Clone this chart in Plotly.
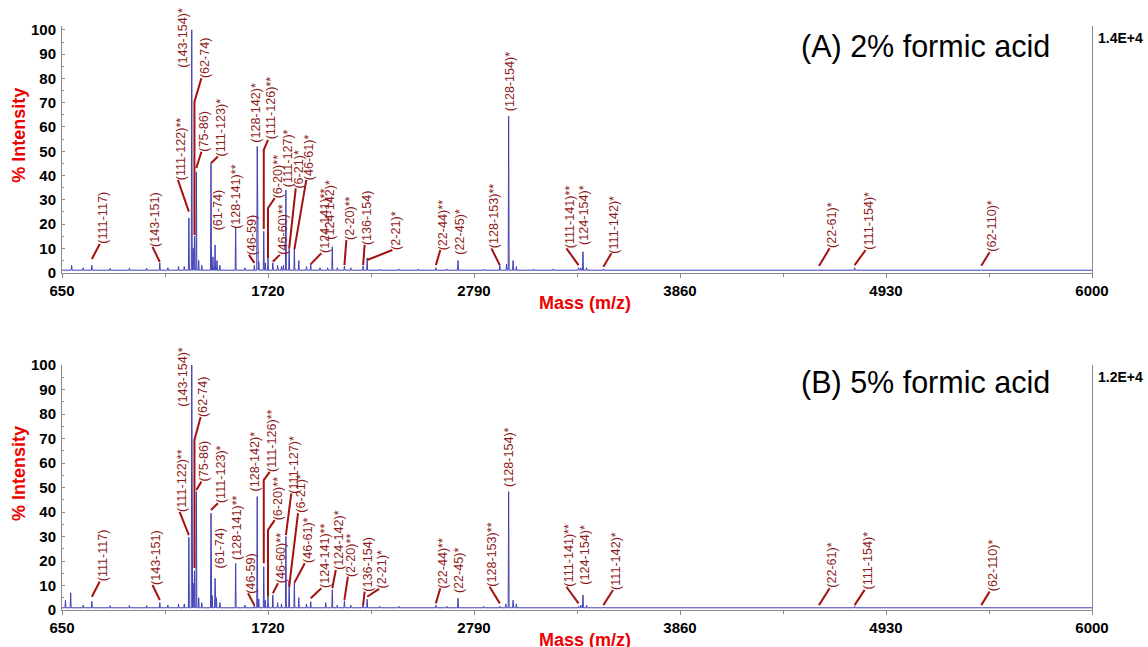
import plotly.graph_objects as go

# ---------------- data ----------------
MZ_MIN, MZ_MAX = 650, 6000
x_ticks = [650, 1720, 2790, 3860, 4930, 6000]
y_ticks = list(range(0, 101, 10))
panel_titles = ["(A) 2% formic acid", "(B) 5% formic acid"]
panel_scale = ["1.4E+4", "1.2E+4"]

labels = ["(111-117)", "(143-151)", "(111-122)**", "(143-154)*", "(62-74)", "(75-86)",
          "(111-123)*", "(61-74)", "(128-141)**", "(46-59)", "(128-142)*", "(111-126)**",
          "(6-20)**", "(46-60)**", "(111-127)*", "(6-21)*", "(46-61)*", "(124-141)**",
          "(124-142)*", "(2-20)**", "(136-154)", "(2-21)*", "(22-44)**", "(22-45)*",
          "(128-153)**", "(128-154)*", "(111-141)**", "(124-154)*", "(111-142)*",
          "(22-61)*", "(111-154)*", "(62-110)*"]
label_mz = [805, 1158, 1309, 1324, 1338, 1348, 1424, 1445, 1552, 1649, 1664, 1698,
            1720, 1745, 1813, 1830, 1857, 1942, 2054, 2117, 2214, 2235, 2592, 2707,
            2924, 2970, 3333, 3356, 3462, 4582, 4767, 5425]
int_a = [3, 4, 22.5, 100, 15, 41.5, 45, 11.4, 18.3, 3, 52, 17, 6, 4, 34, 10, 9.6, 3.5,
         10.7, 2.7, 2.7, 6, 2, 5, 3, 64.5, 2, 8.6, 1.5, 1, 2, 1.2]
int_b = [3.5, 3, 29.7, 100, 16, 48.3, 39.5, 12.9, 19, 2.5, 46.3, 17.7, 5.4, 6.1, 30, 12,
         11, 3.4, 8.2, 3.8, 2.8, 4.4, 2, 4.8, 1.5, 48.3, 1.5, 6.1, 1.2, 1, 1.5, 1]

minor_mz_a = [700, 760, 900, 1000, 1090, 1200, 1255, 1285, 1331, 1360, 1376, 1434, 1455,
              1470, 1600, 1672, 1706, 1770, 1790, 1800, 1880, 1920, 1990, 2030, 2080,
              2150, 2300, 2400, 2500, 2650, 2840, 2959, 2993, 3010, 3100, 3200, 3345, 3375]
minor_h_a = [3, 2, 1.8, 1.8, 1.8, 2, 2.5, 2.5, 10, 5, 3, 6.5, 5, 3, 2, 4.5, 4, 3, 2.5, 3,
             5, 2.5, 2, 2, 2, 2, 1.5, 1.5, 1.5, 1.5, 1.5, 3.5, 5, 2.5, 1.5, 1.5, 2, 2]
minor_mz_b = [668, 695, 760, 900, 1000, 1090, 1200, 1255, 1285, 1331, 1360, 1376, 1430,
              1452, 1470, 1600, 1672, 1706, 1770, 1790, 1880, 1920, 2020, 2080, 2150,
              2300, 2400, 2650, 2840, 2955, 2993, 3010, 3345, 3375]
minor_h_b = [4, 7, 2, 1.8, 1.8, 1.8, 2, 2.5, 2.5, 11, 5, 3, 6, 5, 3, 2, 4.5, 4, 3, 2.5, 5,
             2.5, 3, 2, 2, 1.5, 1.5, 1.5, 1.5, 2.5, 4, 2.5, 2, 2]
base_a, base_b = 1.0, 0.9

# ---------------- label layout (leader end / text base, elbow, leader start) ----------------
layout_a = [(846, 11.8, None, 5.6), (1120, 10.6, None, 4.4), (1252, 38.2, None, 25.1),
            (1277, 84.3, None, None), (1374, 80.1, 70.4, 15.5), (1374, 49.8, None, 43.1),
            (1460, 47.8, None, 45.1), (1460, 17.6, None, None), (1556, 18, None, None),
            (1621, 7.3, None, 4), (1656, 53.4, None, None), (1720, 54.7, 50.5, 18),
            (1755, 30.7, 26.6, 6), (1781, 7.3, None, 4.5), (1821, 35.4, None, None),
            (1864, 34.7, None, 10), (1919, 38.2, None, 9.6), (1997, 8, None, 3.5),
            (2040, 13.4, None, None), (2127, 13.4, None, 3.1), (2222, 11.4, None, 3.1),
            (2366, 9.3, None, 5.2), (2615, 9.3, None, 3.1), (2716, 7.3, None, None),
            (2880, 10, None, 3.1), (2975, 66.3, None, None), (3270, 10, None, 3.1),
            (3361, 11.4, None, None), (3504, 8, None, 2.4), (4637, 10, None, 2.7),
            (4824, 9.3, None, 3.1), (5468, 8.4, None, 2.8)]
layout_b = [(846, 11.6, None, 5.4), (1120, 10.2, None, 4.1), (1261, 40.1, None, 30.6),
            (1279, 83, None, None), (1370, 78.8, 69.4, 17.1), (1374, 52.4, None, 49),
            (1460, 43.6, None, 40.8), (1469, 17, None, None), (1556, 20.4, None, None),
            (1616, 6.8, None, 2), (1651, 48.3, None, None), (1729, 56.4, 53, 19.1),
            (1755, 36.7, 32.7, 5.4), (1772, 10.9, None, 6.8), (1841, 47.6, None, 30.6),
            (1876, 39.5, None, 9.5), (1911, 19.1, None, 11.1), (1997, 8.9, None, 4.8),
            (2072, 16.3, None, 8.9), (2135, 13.6, None, 4.1), (2222, 7.5, None, 2),
            (2297, 8.6, None, 5.4), (2615, 8.9, None, 2.7), (2716, 6.8, None, None),
            (2871, 9.5, None, 2.7), (2973, 50.3, None, None), (3270, 9.5, None, 2.7),
            (3365, 10.2, None, None), (3512, 8.2, None, 2), (4637, 8.9, None, 2),
            (4819, 8.2, None, 2), (5468, 7.5, None, 2)]
title_mz = 5136

# ---------------- styles ----------------
FONT = "Liberation Sans, Arial, sans-serif"
SPEC_COLOR = "rgb(64,64,180)"
TEXT_RED = "#8e1b1b"
LEAD_RED = "#a31111"
AXIS_GRAY = "#8a8a8a"


def spectrum(mz, h, base):
    pts = sorted(zip(mz, h))
    xs, ys = [MZ_MIN], [base]
    for m, v in pts:
        xs += [m - 2.5, m, m + 2.5]
        ys += [base, v, base]
    xs.append(MZ_MAX)
    ys.append(base)
    return xs, ys


fig = go.Figure()
annotations = []

panels = [
    (label_mz, int_a, minor_mz_a, minor_h_a, base_a, layout_a, "x", "y"),
    (label_mz, int_b, minor_mz_b, minor_h_b, base_b, layout_b, "x2", "y2"),
]

for pi, (lmz, lint, mmz, mh, base, lay, xa, ya) in enumerate(panels):
    xs, ys = spectrum(list(lmz) + list(mmz), list(lint) + list(mh), base)
    fig.add_trace(go.Scatter(x=xs, y=ys, mode="lines", xaxis=xa, yaxis=ya,
                             line=dict(color=SPEC_COLOR, width=1), hoverinfo="skip",
                             showlegend=False, cliponaxis=False))
    lx, ly = [], []
    for i, (ex, ey, elbow, tip) in enumerate(lay):
        has_lead = tip is not None
        if has_lead:
            lx += [lmz[i]]
            ly += [tip]
            if elbow is not None:
                lx += [lmz[i]]
                ly += [elbow]
            lx += [ex, None]
            ly += [ey, None]
        annotations.append(dict(
            x=ex, y=ey, xref=xa, yref=ya, text=labels[i], showarrow=False,
            textangle=-90, xanchor="center", yanchor="bottom",
            xshift=3 if has_lead else 0, borderpad=0, borderwidth=0,
            font=dict(family=FONT, size=12.6, color=TEXT_RED)))
    fig.add_trace(go.Scatter(x=lx, y=ly, mode="lines", xaxis=xa, yaxis=ya,
                             line=dict(color=LEAD_RED, width=2), hoverinfo="skip",
                             showlegend=False, cliponaxis=False))

    ydom = "y domain" if ya == "y" else "y2 domain"
    # panel title
    annotations.append(dict(x=title_mz, xref=xa, y=1, yref=ydom, text=panel_titles[pi],
                            showarrow=False, xanchor="center", yanchor="middle",
                            yshift=-20 if pi == 0 else -17,
                            font=dict(family=FONT, size=30.5, color="black")))
    # scale label
    annotations.append(dict(x=1.0, xref="paper", y=1, yref=ydom,
                            text="<b>" + panel_scale[pi] + "</b>",
                            showarrow=False, xanchor="left", yanchor="middle",
                            xshift=4, yshift=-12,
                            font=dict(family=FONT, size=14, color="black")))
    # y title
    annotations.append(dict(x=-0.0417, xref="paper", y=0.555, yref=ydom,
                            text="<b>% Intensity</b>",
                            showarrow=False, textangle=-90, xanchor="center", yanchor="middle",
                            font=dict(family=FONT, size=18, color="#ee0000")))
    # x title
    annotations.append(dict(x=0.5078, xref="paper", y=0, yref=ydom,
                            text="<b>Mass (m/z)</b>",
                            showarrow=False, xanchor="center", yanchor="middle", yshift=-30,
                            font=dict(family=FONT, size=18, color="#ee0000")))

xaxis_common = dict(range=[MZ_MIN, MZ_MAX], tickvals=x_ticks, ticktext=[str(v) for v in x_ticks],
                    showline=True, linecolor=AXIS_GRAY, linewidth=1, ticks="outside",
                    ticklen=4, tickcolor=AXIS_GRAY, showgrid=False, zeroline=False,
                    tickfont=dict(family=FONT, size=15, color="black", weight="bold"),
                    minor=dict(tick0=650, dtick=535, ticks="outside", ticklen=3,
                               tickcolor=AXIS_GRAY),
                    fixedrange=True)
yaxis_common = dict(tickvals=y_ticks, showline=True, linecolor=AXIS_GRAY, linewidth=1,
                    mirror=True, ticks="inside", ticklen=3, tickcolor=AXIS_GRAY,
                    showgrid=False, zeroline=False,
                    tickfont=dict(family=FONT, size=15, color="black", weight="bold"),
                    minor=dict(dtick=5, ticks="inside", ticklen=2, tickcolor=AXIS_GRAY),
                    ticklabelstandoff=2, fixedrange=True)

fig.update_layout(
    width=1148, height=647,
    margin=dict(l=62, r=56, t=26, b=37, pad=0),
    paper_bgcolor="white", plot_bgcolor="white",
    showlegend=False,
    xaxis=dict(**xaxis_common, anchor="y", domain=[0, 1]),
    yaxis=dict(**yaxis_common, anchor="x", domain=[0.5777, 1], range=[0, 101.6]),
    xaxis2=dict(**xaxis_common, anchor="y2", domain=[0, 1]),
    yaxis2=dict(**yaxis_common, anchor="x2", domain=[0, 0.4195], range=[0, 100]),
    annotations=annotations,
)

fig.write_html("out.html", include_plotlyjs=True, full_html=True,
               config={"displayModeBar": False})
